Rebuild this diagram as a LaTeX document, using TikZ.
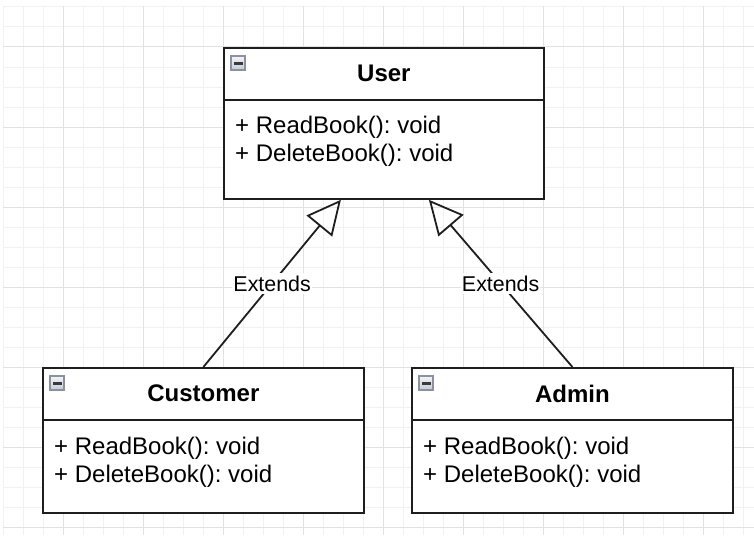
\documentclass[tikz,border=0pt]{standalone}
\usepackage{fontspec}
\setmainfont{Liberation Sans}
\usetikzlibrary{arrows.meta}
\frenchspacing

\definecolor{gridminor}{HTML}{F1F1F1}
\definecolor{gridmajor}{HTML}{E2E2E2}
\definecolor{edgecol}{HTML}{1E1E1E}
\definecolor{iconborder}{HTML}{8A92A2}
\definecolor{icontop}{HTML}{F4F5F8}
\definecolor{iconbottom}{HTML}{C4C9D3}
\definecolor{iconbar}{HTML}{3A3A3A}

\tikzset{
  classbox/.style={draw=edgecol, line width=1.8pt, fill=white,
    rectangle, anchor=north west, inner sep=0pt},
  divider/.style={draw=edgecol, line width=1.8pt},
  classtitle/.style={font=\fontsize{24}{28}\selectfont\bfseries, inner sep=0pt},
  member/.style={font=\fontsize{24}{28}\selectfont, anchor=base west, inner sep=0pt},
  extends/.style={draw=edgecol, line width=1.8pt,
    -{Triangle[open, length=34pt, width=33pt, line join=miter]}},
  edgelabel/.style={font=\fontsize{21.4}{24}\selectfont, fill=white,
    inner xsep=1pt, inner ysep=3pt},
  collapse/.pic={
    \shade[top color=icontop, bottom color=iconbottom, draw=iconborder, line width=1.2pt]
      (0,0) rectangle (14,14);
    \fill[iconbar] (2.5,5.5) rectangle (11.5,8.5);
  }
}

\begin{document}
\begin{tikzpicture}[x=1pt, y=-1pt]
  \useasboundingbox (0,0) rectangle (754,535);
  \fill[white] (0,0) rectangle (754,535);

  % background grid: fine lines every 20px, stronger lines every 80px
  \foreach \gx in {3,23,...,743} {
    \draw[gridminor, line width=1pt] (\gx,6) -- (\gx,535);
  }
  \foreach \gy in {7,27,...,527} {
    \draw[gridminor, line width=1pt] (3,\gy) -- (754,\gy);
  }
  \foreach \gx in {63,143,...,703} {
    \draw[gridmajor, line width=1pt] (\gx,6) -- (\gx,535);
  }
  \foreach \gy in {47,127,...,527} {
    \draw[gridmajor, line width=1pt] (3,\gy) -- (754,\gy);
  }

  % class boxes
  \node[classbox, minimum width=320pt, minimum height=151pt] (user) at (223,47) {};
  \node[classbox, minimum width=321pt, minimum height=145pt] (customer) at (42,367) {};
  \node[classbox, minimum width=321pt, minimum height=145pt] (admin) at (411,367) {};

  % header dividers and collapse icons
  \foreach \cls in {user, customer, admin} {
    \draw[divider] ([yshift=-53pt]\cls.north west) -- ([yshift=-53pt]\cls.north east);
    \pic at ([xshift=8pt, yshift=-9pt]\cls.north west) {collapse};
  }

  % titles
  \node[classtitle] (user-title) at ([yshift=-26.5pt]user.north) {User};
  \node[classtitle] (customer-title) at ([yshift=-26.5pt]customer.north) {Customer};
  \node[classtitle] (admin-title) at ([yshift=-26.5pt]admin.north) {Admin};

  % operations
  \node[member] (user-op1) at ([xshift=12pt, yshift=-86pt]user.north west) {+ ReadBook(): void};
  \node[member] (user-op2) at ([xshift=12pt, yshift=-114pt]user.north west) {+ DeleteBook(): void};
  \node[member] (customer-op1) at ([xshift=12pt, yshift=-87pt]customer.north west) {+ ReadBook(): void};
  \node[member] (customer-op2) at ([xshift=12pt, yshift=-115pt]customer.north west) {+ DeleteBook(): void};
  \node[member] (admin-op1) at ([xshift=12pt, yshift=-87pt]admin.north west) {+ ReadBook(): void};
  \node[member] (admin-op2) at ([xshift=12pt, yshift=-115pt]admin.north west) {+ DeleteBook(): void};

  % generalisation links
  \coordinate (user-left) at ([xshift=-43pt]user.south);
  \coordinate (user-right) at ([xshift=45pt]user.south);
  \draw[extends] (customer.north) -- node[edgelabel, midway] (ext-left) {Extends} (user-left);
  \draw[extends] (admin.north) -- node[edgelabel, midway] (ext-right) {Extends} (user-right);
\end{tikzpicture}
\end{document}
